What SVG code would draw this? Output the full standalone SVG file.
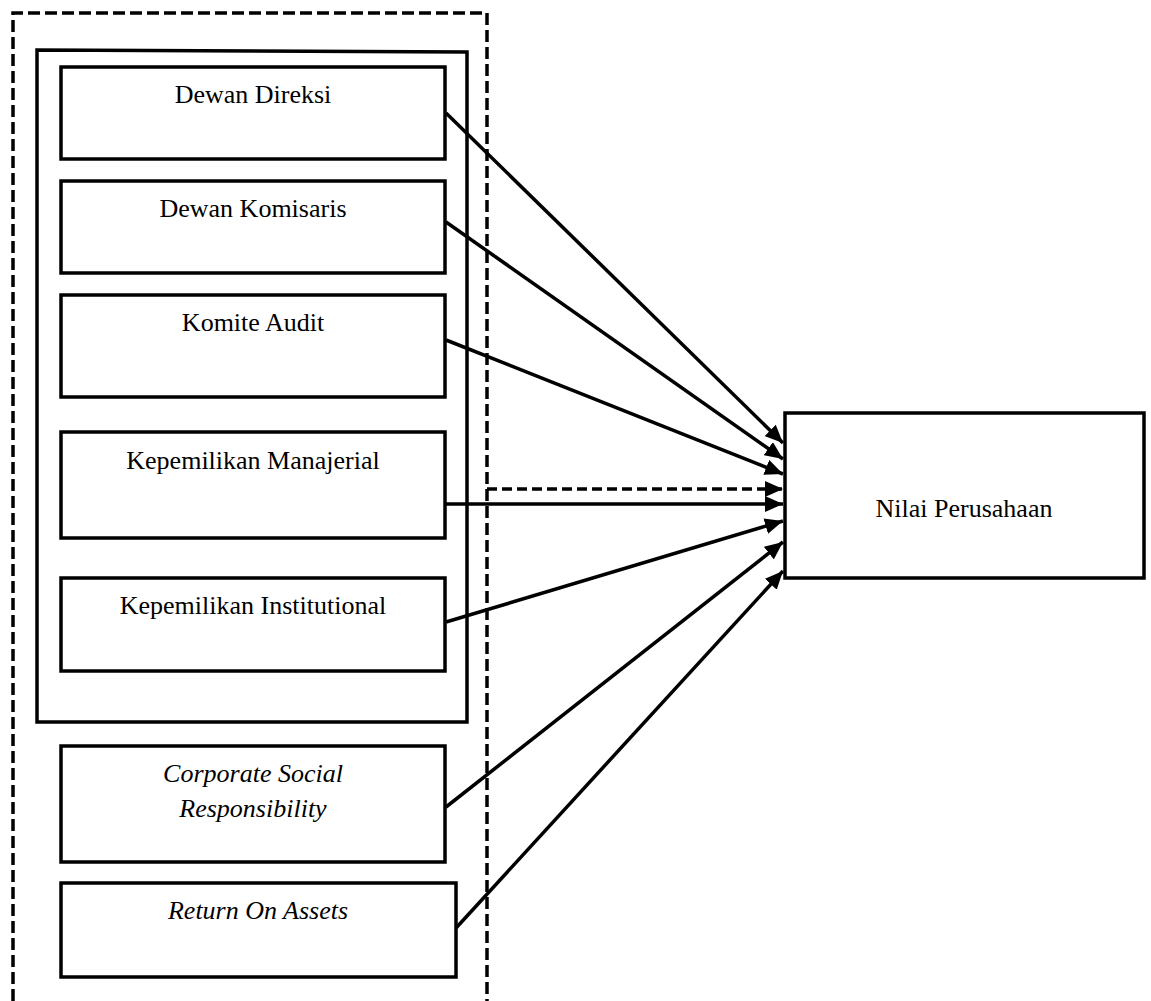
<svg xmlns="http://www.w3.org/2000/svg" width="1151" height="1001" viewBox="0 0 1151 1001">
<defs>
<style>
.box{fill:#fff;stroke:#000;stroke-width:3.5}
.t{font-family:"Liberation Serif","Times New Roman",serif;font-size:26px;fill:#000;text-anchor:middle}
.it{font-style:italic}
.c{stroke:#000;stroke-width:3.5;fill:none;marker-end:url(#ah)}
.d{stroke-dasharray:10 5}
</style>
<marker id="ah" markerUnits="userSpaceOnUse" markerWidth="20" markerHeight="16" refX="18" refY="8" orient="auto">
<path d="M0,0 L18,8 L0,16 Z" fill="#000"/>
</marker>
</defs>
<rect width="1151" height="1001" fill="#fff"/>
<g id="outer-dashed">
<path d="M13,1001 L13,13 L487,13 L487,1001" fill="none" stroke="#000" stroke-width="3.5" stroke-dasharray="12 5"/>
</g>
<g id="group-gc">
<path d="M37,722 L37,50 L467,52 L467,722 Z" fill="none" stroke="#000" stroke-width="3.5"/>
</g>
<g id="connectors">
<line class="c" x1="446" y1="113" x2="783" y2="443"/>
<line class="c" x1="446" y1="222" x2="783" y2="459"/>
<line class="c" x1="446" y1="340" x2="783" y2="474"/>
<path class="c d" d="M487,489 L783,489"/>
<line class="c" x1="446" y1="504" x2="783" y2="504"/>
<line class="c" x1="446" y1="622" x2="783" y2="521"/>
<line class="c" x1="446" y1="807" x2="783" y2="542"/>
<line class="c" x1="456" y1="928" x2="783" y2="571"/>
</g>
<g id="n1"><rect class="box" x="61" y="67" width="384" height="92"/><text class="t" x="253" y="103">Dewan Direksi</text></g>
<g id="n2"><rect class="box" x="61" y="181" width="384" height="92"/><text class="t" x="253" y="217">Dewan Komisaris</text></g>
<g id="n3"><rect class="box" x="61" y="295" width="384" height="102"/><text class="t" x="253" y="331">Komite Audit</text></g>
<g id="n4"><rect class="box" x="61" y="432" width="384" height="106"/><text class="t" x="253" y="469">Kepemilikan Manajerial</text></g>
<g id="n5"><rect class="box" x="61" y="578" width="384" height="93"/><text class="t" x="253" y="614">Kepemilikan Institutional</text></g>
<g id="n6"><rect class="box" x="61" y="746" width="384" height="116"/><text class="t it" x="253" y="782">Corporate Social</text><text class="t it" x="253" y="817">Responsibility</text></g>
<g id="n7"><rect class="box" x="61" y="883" width="395" height="94"/><text class="t it" x="258" y="919">Return On Assets</text></g>
<g id="n8"><rect class="box" x="785" y="413" width="359" height="165"/><text class="t" x="964" y="517">Nilai Perusahaan</text></g>
</svg>
